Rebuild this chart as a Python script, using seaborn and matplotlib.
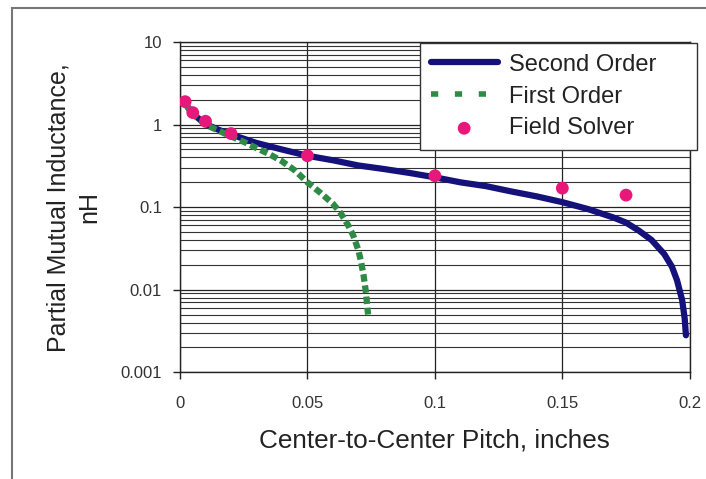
import matplotlib
matplotlib.use("Agg")
import matplotlib.pyplot as plt
import seaborn as sns
import numpy as np
import pandas as pd
from matplotlib.ticker import FixedLocator, NullFormatter, LogLocator
from matplotlib.patches import Rectangle

# ---- data ----
second_x = [0.002, 0.005, 0.01, 0.015, 0.02, 0.03, 0.04, 0.05, 0.06, 0.07, 0.08, 0.09,
            0.10, 0.11, 0.12, 0.13, 0.14, 0.15, 0.16, 0.17, 0.175, 0.18, 0.185, 0.19,
            0.193, 0.195, 0.197, 0.198, 0.1985]
second_y = [1.8, 1.35, 1.02, 0.87, 0.76, 0.60, 0.50, 0.42, 0.37, 0.32, 0.29, 0.26,
            0.23, 0.20, 0.18, 0.155, 0.135, 0.115, 0.095, 0.075, 0.065, 0.052, 0.040, 0.027,
            0.019, 0.013, 0.0075, 0.0045, 0.0028]

first_x = [0.002, 0.005, 0.01, 0.015, 0.02, 0.025, 0.03, 0.035, 0.04, 0.045, 0.05, 0.055,
           0.06, 0.063, 0.066, 0.068, 0.07, 0.071, 0.072, 0.073, 0.0735, 0.0738]
first_y = [1.8, 1.35, 1.0, 0.85, 0.72, 0.62, 0.52, 0.44, 0.36, 0.28, 0.20, 0.15,
           0.11, 0.085, 0.06, 0.045, 0.03, 0.022, 0.015, 0.009, 0.006, 0.005]

solver_x = [0.002, 0.005, 0.01, 0.02, 0.05, 0.10, 0.15, 0.175]
solver_y = [1.9, 1.4, 1.1, 0.78, 0.42, 0.24, 0.17, 0.14]

x_ticks = [0, 0.05, 0.1, 0.15, 0.2]
x_labels = ["0", "0.05", "0.1", "0.15", "0.2"]
y_ticks = [0.001, 0.01, 0.1, 1, 10]
y_labels = ["0.001", "0.01", "0.1", "1", "10"]

sns.set_style("white")
plt.rcParams['font.family'] = ['Liberation Sans', 'DejaVu Sans']

fig = plt.figure(figsize=(7.06, 4.79), dpi=100)
ax = fig.add_axes([0.255, 0.223, 0.722, 0.689])

# outer frame
fig.patches.append(Rectangle((12/706, -0.05), 1.2, 1 - 8/479 + 0.05, transform=fig.transFigure,
                             fill=False, edgecolor="#777777", lw=1.5))

ax.set_yscale("log")
ax.set_xlim(0, 0.2)
ax.set_ylim(0.001, 10)

# grid
ax.yaxis.set_minor_locator(LogLocator(base=10, subs=np.arange(2, 10)))
ax.yaxis.set_minor_formatter(NullFormatter())
ax.grid(True, which="major", axis="both", color="#222222", lw=0.9)
ax.grid(True, which="minor", axis="y", color="#333333", lw=0.8)
ax.set_axisbelow(True)

df2 = pd.DataFrame({"x": second_x, "y": second_y})
df1 = pd.DataFrame({"x": first_x, "y": first_y})
dfs = pd.DataFrame({"x": solver_x, "y": solver_y})

sns.lineplot(data=df2, x="x", y="y", ax=ax, color="#14127a", lw=4.5, label="Second Order",
             zorder=3)
sns.lineplot(data=df1, x="x", y="y", ax=ax, color="#2f8a45", lw=4.5, label="First Order",
             linestyle=(0, (1.2, 0.6)), zorder=3)
sns.scatterplot(data=dfs, x="x", y="y", ax=ax, color="#e8187a", s=85, edgecolor="none",
                label="Field Solver", zorder=4)

ax.xaxis.set_major_locator(FixedLocator(x_ticks))
ax.set_xticklabels(x_labels)
ax.yaxis.set_major_locator(FixedLocator(y_ticks))
ax.set_yticklabels(y_labels)
ax.tick_params(axis="both", which="major", labelsize=12, direction="out", length=5,
               width=1, color="#222222", labelcolor="#333333", bottom=True, left=True)
ax.tick_params(axis="x", pad=12)
ax.tick_params(axis="y", pad=8)
ax.tick_params(axis="y", which="minor", length=0)

for s in ax.spines.values():
    s.set_color("#222222")
    s.set_linewidth(1.0)

ax.set_xlabel("Center-to-Center Pitch, inches", fontsize=18.8, color="#222222", labelpad=13)
ax.set_ylabel("Partial Mutual Inductance,\nnH", fontsize=18, color="#222222", labelpad=14,
              linespacing=1.35)

h, l = ax.get_legend_handles_labels()
leg = ax.legend(h, l, loc="upper left",
                bbox_to_anchor=(420/706, 1 - 152/479, 277/706, 109/479),
                bbox_transform=fig.transFigure, borderaxespad=0, mode="expand", fontsize=17,
                frameon=True, fancybox=False, framealpha=1, edgecolor="#333333",
                handlelength=2.84, borderpad=0.45, labelspacing=0.42, handletextpad=0.47)
leg.get_frame().set_linewidth(1.0)
leg.set_zorder(10)
for t in leg.get_texts():
    t.set_color("#222222")
leg.get_lines()[1].set_linestyle((0, (1.3, 3.0)))
leg.get_lines()[1].set_linewidth(4.0)

fig.savefig("out.png", dpi=100)
